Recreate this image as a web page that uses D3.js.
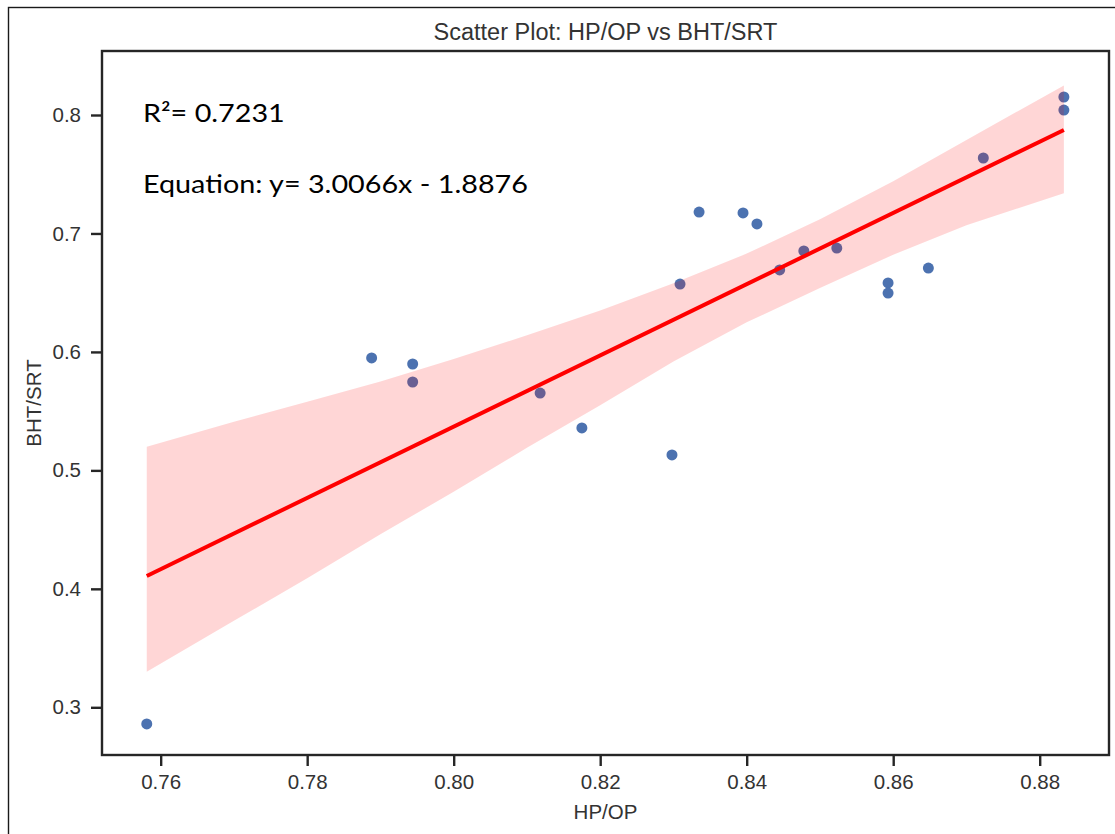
<!DOCTYPE html>
<html>
<head>
<meta charset="utf-8">
<script src="https://cdn.jsdelivr.net/npm/d3@7"></script>
<style>
  body { margin: 0; background: #ffffff; }
  svg { display: block; }
</style>
</head>
<body>
<svg id="chart" width="1115" height="834"></svg>
<script>
// HP/OP ratio (x) and BHT/SRT ratio (y) for each sample
const hpOp = [0.7581, 0.7888, 0.7944, 0.7944, 0.8118, 0.8175, 0.8298, 0.8309, 0.8335, 0.8395,
              0.8414, 0.8445, 0.8478, 0.8523, 0.8593, 0.8593, 0.8648, 0.8723, 0.8833, 0.8833];
const bhtSrt = [0.286, 0.5949, 0.5898, 0.5746, 0.5653, 0.5358, 0.5130, 0.6573, 0.7181, 0.7173,
                0.7080, 0.6692, 0.6852, 0.6877, 0.6582, 0.6497, 0.6708, 0.7637, 0.8152, 0.8042];

// 95% confidence band around the fitted line
const bandX     = [0.7581, 0.77, 0.78, 0.79, 0.80, 0.81, 0.82, 0.83, 0.84, 0.85, 0.86, 0.87, 0.8833];
const bandLower = [0.330, 0.373, 0.409, 0.446, 0.482, 0.519, 0.555, 0.592, 0.625, 0.654, 0.682, 0.707, 0.734];
const bandUpper = [0.520, 0.541, 0.558, 0.575, 0.594, 0.614, 0.635, 0.658, 0.683, 0.712, 0.744, 0.779, 0.825];

const xTicks = [0.76, 0.78, 0.80, 0.82, 0.84, 0.86, 0.88];
const yTicks = [0.3, 0.4, 0.5, 0.6, 0.7, 0.8];

const titleText = "Scatter Plot: HP/OP vs BHT/SRT";
const xLabel = "HP/OP";
const yLabel = "BHT/SRT";
const rSquaredText = "R\u00B2= 0.7231";
const equationText = "Equation: y= 3.0066x - 1.8876";

// ---- layout ----
const W = 1115, H = 834;
const plot = { left: 102, right: 1109, top: 51, bottom: 755 };
const axisColor = "#262626";
const textColor = "#333333";
const sansFont = "'Liberation Sans', Arial, sans-serif";
const noteFont = "Lato, 'Open Sans', sans-serif";

const svg = d3.select("#chart");

// outer frame around the figure
svg.append("rect")
  .attr("x", 8.5).attr("y", 7.5)
  .attr("width", W + 10).attr("height", H + 10)
  .attr("fill", "none").attr("stroke", "#1a1a1a").attr("stroke-width", 1.4);

const x = d3.scaleLinear().domain([0.75199, 0.88946]).range([plot.left, plot.right]);
const y = d3.scaleLinear().domain([0.25973, 0.85403]).range([plot.bottom, plot.top]);

// least-squares fit of the samples
const xm = d3.mean(hpOp), ym = d3.mean(bhtSrt);
let sxy = 0, sxx = 0;
hpOp.forEach((v, i) => { sxy += (v - xm) * (bhtSrt[i] - ym); sxx += (v - xm) * (v - xm); });
const slope = sxy / sxx;
const intercept = ym - slope * xm;
const xExtent = d3.extent(hpOp);

// scatter points
svg.append("g")
  .selectAll("circle")
  .data(hpOp.map((v, i) => [v, bhtSrt[i]]))
  .join("circle")
  .attr("cx", d => x(d[0]))
  .attr("cy", d => y(d[1]))
  .attr("r", 5.5)
  .attr("fill", "#4c72b0");

// confidence band (drawn over the points, translucent)
const area = d3.area()
  .x((d, i) => x(bandX[i]))
  .y0((d, i) => y(bandLower[i]))
  .y1((d, i) => y(bandUpper[i]));
svg.append("path")
  .datum(bandX)
  .attr("d", area)
  .attr("fill", "#ff0000")
  .attr("fill-opacity", 0.16)
  .attr("stroke", "none");

// regression line
const line = d3.line().x(d => x(d)).y(d => y(slope * d + intercept));
svg.append("path")
  .datum(xExtent)
  .attr("d", line)
  .attr("fill", "none")
  .attr("stroke", "#ff0000")
  .attr("stroke-width", 4);

// axes
const xAxis = d3.axisBottom(x).tickValues(xTicks).tickFormat(d3.format(".2f"))
  .tickSize(11).tickPadding(8).tickSizeOuter(0);
const yAxis = d3.axisLeft(y).tickValues(yTicks).tickFormat(d3.format(".1f"))
  .tickSize(11).tickPadding(10).tickSizeOuter(0);

const gx = svg.append("g").attr("transform", `translate(0,${plot.bottom})`).call(xAxis);
const gy = svg.append("g").attr("transform", `translate(${plot.left},0)`).call(yAxis);
[gx, gy].forEach(g => {
  g.select(".domain").remove();
  g.selectAll(".tick line").attr("stroke", axisColor).attr("stroke-width", 2.4);
  g.selectAll(".tick text")
    .attr("fill", textColor)
    .style("font-family", sansFont)
    .style("font-size", "20.5px");
});

// spines
svg.append("rect")
  .attr("x", plot.left).attr("y", plot.top)
  .attr("width", plot.right - plot.left).attr("height", plot.bottom - plot.top)
  .attr("fill", "none").attr("stroke", axisColor).attr("stroke-width", 2.4);

// title and axis labels
svg.append("text")
  .attr("x", (plot.left + plot.right) / 2).attr("y", 40)
  .attr("text-anchor", "middle")
  .attr("fill", textColor)
  .style("font-family", sansFont).style("font-size", "23.5px")
  .text(titleText);

svg.append("text")
  .attr("x", (plot.left + plot.right) / 2).attr("y", 819)
  .attr("text-anchor", "middle")
  .attr("fill", textColor)
  .style("font-family", sansFont).style("font-size", "20.5px")
  .text(xLabel);

svg.append("text")
  .attr("transform", `translate(41,${(plot.top + plot.bottom) / 2}) rotate(-90)`)
  .attr("text-anchor", "middle")
  .attr("fill", textColor)
  .style("font-family", sansFont).style("font-size", "20.5px")
  .text(yLabel);

// fit annotations (slightly widened lettering)
const notes = [[rSquaredText, 122], [equationText, 193]];
notes.forEach(([txt, base]) => {
  svg.append("text")
    .attr("transform", `translate(143,${base}) scale(1.15,1)`)
    .attr("fill", "#000000")
    .style("font-family", noteFont).style("font-size", "25px")
    .text(txt);
});
</script>
</body>
</html>
